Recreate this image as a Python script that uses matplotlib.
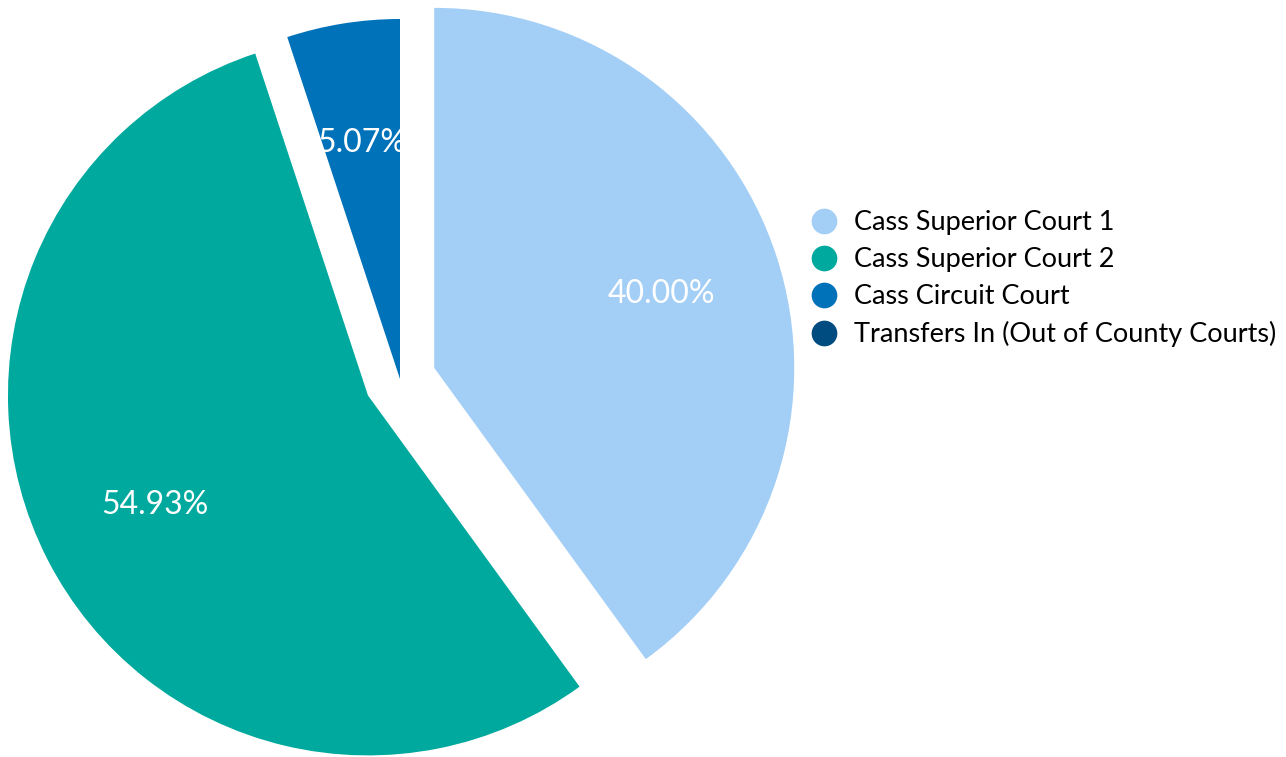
import matplotlib.pyplot as plt
from matplotlib.lines import Line2D

plt.rcParams['font.family'] = ['Lato', 'DejaVu Sans']

labels = ['Cass Superior Court 1', 'Cass Superior Court 2', 'Cass Circuit Court',
          'Transfers In (Out of County Courts)']
values = [40.00, 54.93, 5.07, 0.0]
colors = ['#A3CEF6', '#00A99D', '#0072BA', '#004B80']
explode = [0.1, 0.1, 0, 0]

fig = plt.figure(figsize=(12.86, 7.57), dpi=100)
ax = fig.add_axes([0, 0, 1, 1])

# 1 data unit = 360 px, pie centre at (400, 379) px
R = 360.0

wedges, texts, autotexts = ax.pie(
    values, colors=colors, explode=explode, startangle=90, counterclock=False,
    radius=1, pctdistance=0.665,
    autopct=lambda p: '%.2f%%' % p if p > 0.5 else '',
    textprops=dict(color='white', fontsize=23),
    wedgeprops=dict(linewidth=0), frame=True)
ax.set_xlim(-400 / R, (1286 - 400) / R)
ax.set_ylim(-(757 - 379) / R, 379 / R)
ax.set_aspect('auto')
ax.axis('off')

# label of the small slice is cut off by the slice edges
autotexts[2].set_clip_path(wedges[2])

handles = [Line2D([], [], marker='o', linestyle='', markersize=18.5,
                  markerfacecolor=c, markeredgewidth=0) for c in colors]
fig.legend(handles, labels, loc='center left', bbox_to_anchor=(0.6305, 0.632),
           frameon=False, handlelength=1.0, handletextpad=0.58,
           labelspacing=0.44, borderpad=0, borderaxespad=0,
           prop=dict(size=19.5))

fig.savefig('out.png', dpi=100)
